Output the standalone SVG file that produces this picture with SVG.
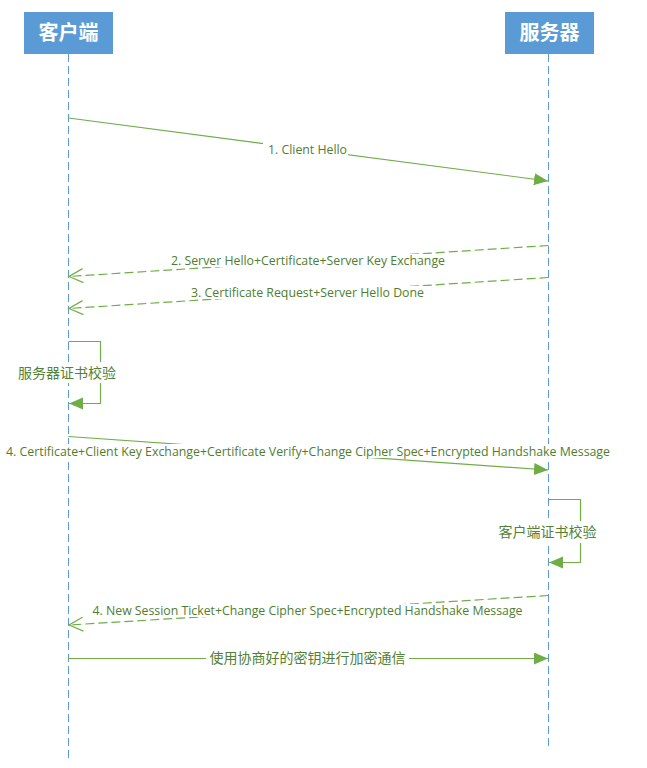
<svg xmlns="http://www.w3.org/2000/svg" width="647" height="768" viewBox="0 0 647 768">
<style>
.hdr{fill:#5b9bd5}
.hdrt{fill:#fff;font-family:"Noto Sans CJK SC",sans-serif;font-size:20px;font-weight:bold;text-anchor:middle}
.life{stroke:#5b9bd5;stroke-width:1;stroke-dasharray:8 4;fill:none}
.msg{stroke:#70ad47;stroke-width:1.2;fill:none}
.dash{stroke-dasharray:9 4}
.lbl{fill:#4f7d2f;font-family:"Open Sans","Noto Sans",sans-serif;font-size:12px;text-anchor:middle}
.cjk{fill:#538135;font-family:"Noto Sans CJK SC",sans-serif;font-size:14px;text-anchor:middle}
.bg{fill:#fff}
</style>
<defs>
<marker id="fa" markerUnits="userSpaceOnUse" markerWidth="15" markerHeight="13" refX="14" refY="6" orient="auto"><path d="M0,0 L14,6 L0,12 z" fill="#70ad47"/></marker>
<marker id="oa" markerUnits="userSpaceOnUse" markerWidth="17" markerHeight="16" refX="15" refY="8" orient="auto"><path d="M1,1 L15,8 L1,15" fill="none" stroke="#70ad47" stroke-width="1.2"/></marker>
</defs>
<g id="client">
<rect class="hdr" x="24" y="12" width="89" height="42"/>
<text class="hdrt" x="68.5" y="40">客户端</text>
<line class="life" x1="68.5" y1="54" x2="68.5" y2="760"/>
</g>
<g id="server">
<rect class="hdr" x="505" y="12" width="89" height="42"/>
<text class="hdrt" x="549.5" y="40">服务器</text>
<line class="life" x1="548.5" y1="54" x2="548.5" y2="748"/>
</g>
<g id="connectors">
<g id="m1">
<line class="msg" x1="68.5" y1="118" x2="548" y2="181" marker-end="url(#fa)"/>
<rect class="bg" x="263" y="143" width="85" height="13"/>
<text class="lbl" x="307.5" y="154" textLength="79" lengthAdjust="spacingAndGlyphs">1. Client Hello</text>
</g>
<g id="m2">
<line class="msg dash" x1="548.5" y1="245.5" x2="69" y2="276.5" marker-end="url(#oa)"/>
<rect class="bg" x="167" y="254" width="282" height="13"/>
<text class="lbl" x="308" y="265" textLength="274" lengthAdjust="spacingAndGlyphs">2. Server Hello+Certificate+Server Key Exchange</text>
</g>
<g id="m3">
<line class="msg dash" x1="548.5" y1="277.5" x2="69" y2="308.5" marker-end="url(#oa)"/>
<rect class="bg" x="186" y="286" width="243" height="13"/>
<text class="lbl" x="307.5" y="297" textLength="233" lengthAdjust="spacingAndGlyphs">3. Certificate Request+Server Hello Done</text>
</g>
<g id="m_self1">
<polyline class="msg" points="68.5,341.5 100.5,341.5 100.5,403.5 69,403.5" marker-end="url(#fa)"/>
<rect class="bg" x="18" y="362" width="98" height="21"/>
<text class="cjk" x="67" y="378">服务器证书校验</text>
</g>
<g id="m4">
<line class="msg" x1="68.5" y1="436.5" x2="548" y2="470" marker-end="url(#fa)"/>
<rect class="bg" x="4" y="444" width="608" height="14"/>
<text class="lbl" x="308" y="456" textLength="604" lengthAdjust="spacingAndGlyphs">4. Certificate+Client Key Exchange+Certificate Verify+Change Cipher Spec+Encrypted Handshake Message</text>
</g>
<g id="m_self2">
<polyline class="msg" points="548.5,499.5 580.5,499.5 580.5,562.5 549,562.5" marker-end="url(#fa)"/>
<rect class="bg" x="497" y="521" width="101" height="22"/>
<text class="cjk" x="547.5" y="537">客户端证书校验</text>
</g>
<g id="m5">
<line class="msg dash" x1="548.5" y1="595.5" x2="69" y2="625" marker-end="url(#oa)"/>
<rect class="bg" x="88" y="604" width="440" height="13"/>
<text class="lbl" x="307.5" y="615" textLength="430" lengthAdjust="spacingAndGlyphs">4. New Session Ticket+Change Cipher Spec+Encrypted Handshake Message</text>
</g>
<g id="m6">
<line class="msg" x1="68.5" y1="658.5" x2="548" y2="658.5" marker-end="url(#fa)"/>
<rect class="bg" x="206" y="649" width="203" height="19"/>
<text class="cjk" x="307.5" y="663">使用协商好的密钥进行加密通信</text>
</g>
</g>
</svg>
